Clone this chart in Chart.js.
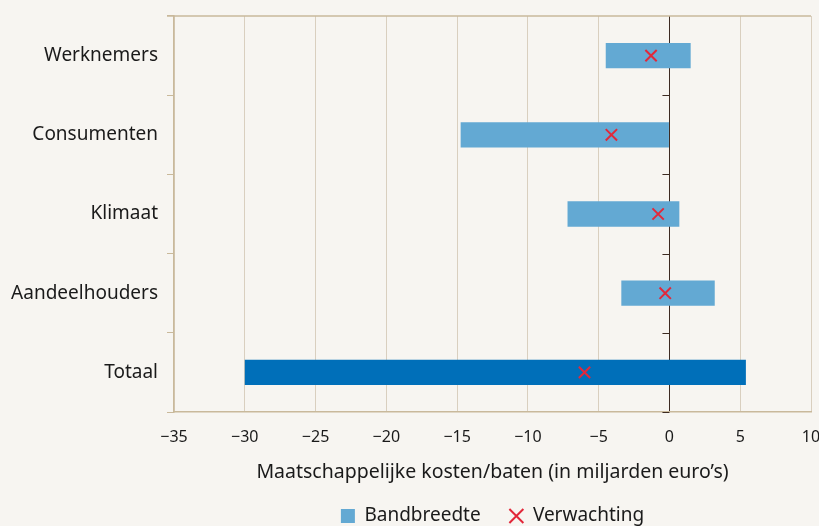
<!DOCTYPE html>
<html>
<head>
  <title>Maatschappelijke kosten/baten</title>
  <script src="https://cdn.jsdelivr.net/npm/chart.js"></script>
  <style>
    html, body { margin: 0; padding: 0; background: #f7f5f1; }
    #wrap { width: 819px; height: 526px; }
  </style>
</head>
<body>
  <div id="wrap"><canvas id="chart" width="819" height="526"></canvas></div>

  <script>
    // data (miljarden euro)
    const categories = ['Werknemers', 'Consumenten', 'Klimaat', 'Aandeelhouders', 'Totaal'];
    const rangeLow  = [-4.5, -14.75, -7.2, -3.4, -30];
    const rangeHigh = [1.5, 0, 0.7, 3.2, 5.4];
    const expected  = [-1.3, -4.1, -0.8, -0.3, -6.0];
    const xTicks    = [-35, -30, -25, -20, -15, -10, -5, 0, 5, 10];

    const barColors = ['#63a9d3', '#63a9d3', '#63a9d3', '#63a9d3', '#006fb9'];
    const FONT = '"Noto Sans", sans-serif';

    // top frame line and short tick marks along the zero line
    const frameAndZeroTicks = {
      id: 'frameAndZeroTicks',
      afterDatasetsDraw(chart) {
        const { ctx, chartArea, scales: { x, y } } = chart;
        const x0 = x.getPixelForValue(0);
        ctx.save();
        ctx.strokeStyle = '#c9b99b';
        ctx.lineWidth = 1.5;
        ctx.beginPath();
        ctx.moveTo(chartArea.left - 7, chartArea.top);
        ctx.lineTo(chartArea.right, chartArea.top);
        ctx.stroke();
        ctx.strokeStyle = '#3d2b22';
        ctx.lineWidth = 1;
        for (let i = 1; i <= categories.length; i++) {
          const py = Math.round(y.getPixelForValue(i - 0.5)) + 0.5;
          ctx.beginPath();
          ctx.moveTo(x0 - 7, py);
          ctx.lineTo(x0, py);
          ctx.stroke();
        }
        ctx.restore();
      }
    };

    const ctx = document.getElementById('chart').getContext('2d');
    new Chart(ctx, {
      type: 'bar',
      data: {
        labels: categories,
        datasets: [{
          label: 'Bandbreedte',
          data: categories.map((c, i) => [rangeLow[i], rangeHigh[i]]),
          backgroundColor: barColors,
          borderWidth: 0,
          barPercentage: 0.32,
          categoryPercentage: 1,
          pointStyle: 'rect',
          order: 2
        }, {
          type: 'line',
          label: 'Verwachting',
          data: expected,
          showLine: false,
          pointStyle: 'crossRot',
          pointRadius: 8,
          pointBorderWidth: 2,
          borderWidth: 2,
          borderColor: '#e2283a',
          backgroundColor: '#e2283a',
          order: 1
        }]
      },
      options: {
        indexAxis: 'y',
        responsive: false,
        animation: false,
        layout: { autoPadding: false, padding: { top: 16, left: 0, right: 8, bottom: -9.5 } },
        scales: {
          x: {
            type: 'linear',
            min: -35,
            max: 10,
            afterBuildTicks: (s) => { s.ticks = xTicks.map(v => ({ value: v })); },
            afterFit: (s) => { s.paddingRight = 0; s.paddingLeft = 0; s.height = 90.5; },
            grid: {
              color: (c) => c.tick && c.tick.value === 0 ? '#3d2b22' : '#d9cfbf',
              lineWidth: 1,
              drawTicks: false
            },
            border: { display: true, color: '#c9b99b', width: 1.5 },
            ticks: {
              color: '#1a1a1a',
              font: { family: FONT, size: 16 },
              padding: 16,
              maxRotation: 0,
              callback: (v) => String(v).replace('-', '\u2212')
            },
            title: {
              display: true,
              text: 'Maatschappelijke kosten/baten (in miljarden euro\u2019s)',
              color: '#1a1a1a',
              font: { family: FONT, size: 19.5 },
              padding: { top: 0, bottom: 18.5 }
            }
          },
          y: {
            grid: {
              display: true,
              drawOnChartArea: false,
              tickLength: 7,
              color: '#c9b99b'
            },
            border: { display: true, color: '#c9b99b', width: 1.5 },
            ticks: {
              color: '#1a1a1a',
              font: { family: FONT, size: 19 },
              padding: 9
            },
            afterFit: (s) => { s.width = 174; s.paddingTop = 0; s.paddingBottom = 0; }
          }
        },
        plugins: {
          legend: {
            position: 'bottom',
            fullSize: false,
            labels: {
              usePointStyle: true,
              boxWidth: 14,
              boxHeight: 14,
              padding: 4,
              color: '#1a1a1a',
              font: { family: FONT, size: 19 },
              sort: (a, b) => a.datasetIndex - b.datasetIndex,
              generateLabels: (chart) => {
                const items = Chart.defaults.plugins.legend.labels.generateLabels(chart);
                items.forEach((it) => { if (it.datasetIndex === 0) it.text += '\u00a0\u00a0\u00a0\u00a0\u00a0'; });
                return items;
              }
            }
          },
          tooltip: { enabled: false }
        }
      },
      plugins: [frameAndZeroTicks]
    });
  </script>
</body>
</html>
